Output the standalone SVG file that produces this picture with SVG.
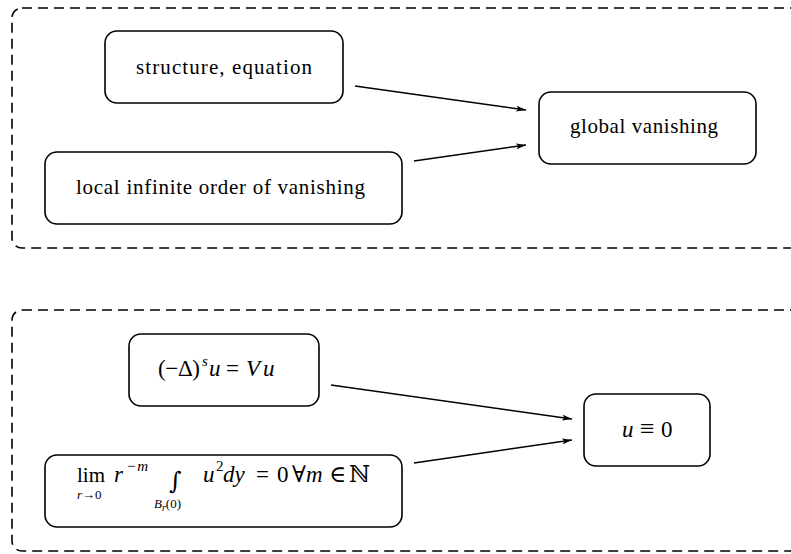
<svg xmlns="http://www.w3.org/2000/svg" width="791" height="554" viewBox="0 0 791 554">
<style>
.frame{fill:none;stroke:#000;stroke-width:1.6;stroke-dasharray:10 6}
.node{fill:#fff;stroke:#000;stroke-width:1.6}
.t{font-family:"Liberation Serif","DejaVu Serif",serif;font-size:21px;fill:#000}
.m{font-size:23px}
.i{font-style:italic}
.n{font-style:normal}
.s{font-size:15px}
.ss{font-size:13px}
.edge{stroke:#000;stroke-width:1.4;fill:none;marker-end:url(#ah)}
</style>
<defs>
<marker id="ah" viewBox="0 0 10 6" refX="10" refY="3" markerWidth="10" markerHeight="6" markerUnits="userSpaceOnUse" orient="auto">
<path d="M0,0 L10,3 L0,6 L2.5,3 Z" fill="#000"/>
</marker>
</defs>
<rect class="frame" x="12" y="8" width="800" height="240" rx="10"/>
<rect class="frame" x="12" y="310" width="800" height="241" rx="10"/>
<g id="n1"><rect class="node" x="105" y="31" width="238" height="72" rx="12"/><text class="t" x="224" y="74" text-anchor="middle" textLength="176">structure, equation</text></g>
<g id="n2"><rect class="node" x="45" y="152" width="357" height="72" rx="12"/><text class="t" x="220.5" y="194" text-anchor="middle" textLength="289">local infinite order of vanishing</text></g>
<g id="n3"><rect class="node" x="539" y="92" width="217" height="72" rx="12"/><text class="t" x="644" y="133" text-anchor="middle" textLength="148">global vanishing</text></g>
<g id="n4"><rect class="node" x="129" y="334" width="190" height="72" rx="12"/>
<text class="t m" y="376"><tspan x="158" textLength="42">(−Δ)</tspan><tspan class="i s" x="202" y="366">s</tspan><tspan class="i" x="209" y="376">u</tspan><tspan x="226">=</tspan><tspan class="i" x="246">V</tspan><tspan class="i" x="263">u</tspan></text></g>
<g id="n5"><rect class="node" x="45" y="455" width="357" height="72" rx="12"/>
<text class="t" x="77" y="482">lim</text>
<text class="t i ss" x="77" y="499">r<tspan class="n">→0</tspan></text>
<text class="t m i" x="114" y="482">r</text>
<text class="t i s" x="126" y="471" textLength="22">−m</text>
<text x="169" y="489" font-family="DejaVu Serif, serif" font-size="24" fill="#000">∫</text>
<text class="t i ss" x="154" y="508">B<tspan font-size="10" dy="3">r</tspan><tspan class="n" dy="-3">(0)</tspan></text>
<text class="t m" y="482"><tspan class="i" x="203">u</tspan><tspan class="s" x="216" y="471">2</tspan><tspan class="i" x="223" y="482">dy</tspan><tspan x="256">=</tspan><tspan x="277">0</tspan><tspan x="292">∀</tspan><tspan class="i" x="306">m</tspan><tspan x="329">∈</tspan><tspan x="349">ℕ</tspan></text>
</g>
<g id="n6"><rect class="node" x="584" y="394" width="126" height="72" rx="12"/><text class="t m" y="437"><tspan class="i" x="622">u</tspan><tspan x="640" font-size="26">≡</tspan><tspan x="661">0</tspan></text></g>
<g id="edges">
<line class="edge" x1="355" y1="86" x2="526" y2="110"/>
<line class="edge" x1="414" y1="161" x2="526" y2="145"/>
<line class="edge" x1="331" y1="385" x2="572" y2="419"/>
<line class="edge" x1="414" y1="463" x2="572" y2="440"/>
</g>
</svg>
